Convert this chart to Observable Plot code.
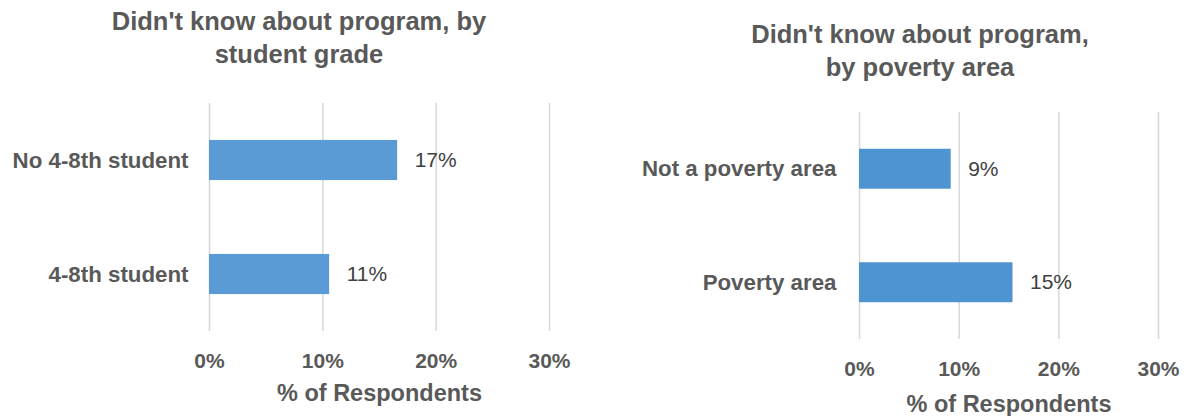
<!DOCTYPE html>
<html>
<head>
<meta charset="utf-8">
<script src="https://cdn.jsdelivr.net/npm/d3@7"></script>
<script src="https://cdn.jsdelivr.net/npm/@observablehq/plot@0.6"></script>
<style>
  html, body { margin: 0; padding: 0; background: #ffffff; }
  #wrap { position: relative; width: 1184px; height: 416px; overflow: hidden; font-family: "Liberation Sans", Arial, sans-serif; }
  .panel { position: absolute; top: 0; }
  .title { position: absolute; width: 500px; text-align: center; font-weight: bold; font-size: 25.5px; line-height: 33px; color: #595959; }
</style>
</head>
<body>
<div id="wrap">
  <div class="title" id="t1" style="left:49px; top:5px;">Didn't know about program, by<br>student grade</div>
  <div class="title" id="t2" style="left:670px; top:18px;">Didn't know about program,<br>by poverty area</div>
  <div class="panel" id="p1" style="left:0px;"></div>
  <div class="panel" id="p2" style="left:592px;"></div>
</div>
<script>
// Data
const gradeCategories = ["No 4-8th student", "4-8th student"];
const gradeValues = [0.166, 0.106];
const povertyCategories = ["Not a poverty area", "Poverty area"];
const povertyValues = [0.092, 0.154];
const xTicks = [0, 0.1, 0.2, 0.3];
const xTickLabels = ["0%", "10%", "20%", "30%"];
const axisTitle = "% of Respondents";

const pct = d3.format(".0%");

function chart(cats, vals, opts) {
  const data = cats.map((c, i) => ({cat: c, value: vals[i]}));
  return Plot.plot({
    width: 592,
    height: 416,
    marginLeft: opts.marginLeft,
    marginRight: opts.marginRight,
    marginTop: opts.marginTop,
    marginBottom: opts.marginBottom,
    style: {fontFamily: "'Liberation Sans', Arial, sans-serif", color: "#595959", background: "transparent", overflow: "visible"},
    x: {domain: [0, 0.3]},
    y: {domain: cats, paddingInner: 0.648, paddingOuter: 0.324, round: false},
    marks: [
      Plot.ruleX(xTicks, {stroke: "#d9d9d9", strokeWidth: 1.6}),
      Plot.barX(data, {x: "value", y: "cat", fill: opts.fill}),
      Plot.text(data, {x: "value", y: "cat", text: d => pct(d.value), dx: 17, textAnchor: "start", fontSize: 21, fill: "#404040"}),
      Plot.axisX({ticks: xTicks, tickSize: 0, tickPadding: 22, tickFormat: d => xTickLabels[xTicks.indexOf(d)], fontSize: 21, fontWeight: "bold", label: null}),
      Plot.axisY({tickSize: 0, tickPadding: opts.yPad, fontSize: 22.3, fontWeight: "bold", label: null}),
      Plot.text([axisTitle], {text: d => d, frameAnchor: "bottom", dy: opts.titleDy, fontSize: 23.5, fontWeight: "bold", fill: "#595959"})
    ]
  });
}

document.getElementById("p1").appendChild(chart(gradeCategories, gradeValues, {
  marginLeft: 209, marginRight: 43, marginTop: 103, marginBottom: 85, fill: "#5b9bd5", yPad: 21, titleDy: 69
}));
document.getElementById("p2").appendChild(chart(povertyCategories, povertyValues, {
  marginLeft: 267, marginRight: 26, marginTop: 112, marginBottom: 77, fill: "#4e94d0", yPad: 23, titleDy: 72
}));
</script>
</body>
</html>
